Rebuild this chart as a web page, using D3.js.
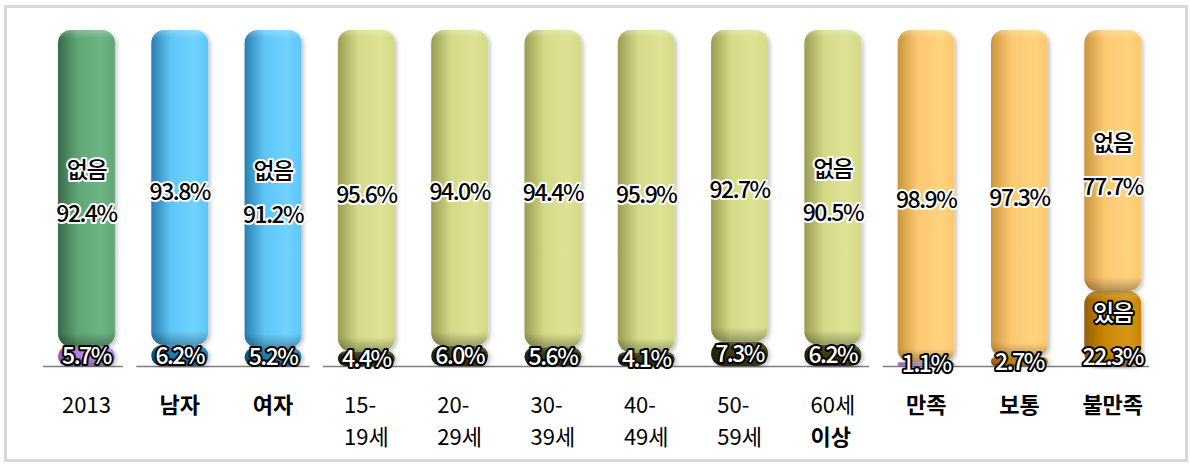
<!DOCTYPE html>
<html>
<head>
<meta charset="utf-8">
<script src="https://cdn.jsdelivr.net/npm/d3@7"></script>
<style>
  body { margin: 0; background: #fff; }
  svg { display: block; font-family: "Noto Sans CJK KR", "Noto Sans", sans-serif; }
</style>
</head>
<body>
<svg width="1190" height="464"></svg>
<script>
// categories (line breaks as in the original axis), series values in %
var categories = ["2013", "남자", "여자", "15-\n19세", "20-\n29세", "30-\n39세", "40-\n49세",
                  "50-\n59세", "60세\n이상", "만족", "보통", "불만족"];
var noneValues = [92.4, 93.8, 91.2, 95.6, 94.0, 94.4, 95.9, 92.7, 90.5, 98.9, 97.3, 77.7];  // 없음
var yesValues  = [5.7, 6.2, 5.2, 4.4, 6.0, 5.6, 4.1, 7.3, 6.2, 1.1, 2.7, 22.3];            // 있음
var groupOf    = [0, 1, 1, 2, 2, 2, 2, 2, 2, 3, 3, 3];
var boldCats   = ["남자", "여자", "만족", "보통", "불만족"];
var namedNone  = ["2013", "여자", "60세\n이상", "불만족"];   // bars that show the 없음 name
var namedYes   = ["불만족"];                                 // bars that show the 있음 name

// colours: [dark edge, body, highlight]
var topColors = [
  ["#3b6a49", "#5ea676", "#6cb583"],
  ["#2a7fb0", "#5ec6f6", "#70d2ff"],
  ["#9a9d52", "#d3d987", "#dde392"],
  ["#c9953e", "#fbc870", "#ffd37e"]
];
var olive = ["#1f2108", "#3a3d14", "#474a1c"];
var bottomColors = [
  ["#8d5fc0", "#b283e0", "#c49af0"],
  ["#0d4f78", "#1a7db3", "#2a8dc3"],
  ["#0d4f78", "#1a7db3", "#2a8dc3"],
  olive, olive, olive, olive, olive, olive,
  ["#8d6fc0", "#b59ce0", "#c7b0f0"],
  ["#9a5f08", "#c98412", "#d99a25"],
  ["#94600a", "#c88400", "#d6961a"]
];

var data = categories.map(function(c, i) {
  return {cat: c, none: noneValues[i], yes: yesValues[i], i: i};
});

var svg = d3.select("svg");
var defs = svg.append("defs");

// chart frame
svg.append("rect")
  .attr("x", 5.5).attr("y", 6.5)
  .attr("width", 1181).attr("height", 454)
  .attr("fill", "#fff")
  .attr("stroke", "#d9d9d9")
  .attr("stroke-width", 3);

var x = d3.scaleBand()
  .domain(categories)
  .range([39.8, 1159.4])
  .paddingInner(0.39)
  .paddingOuter(0.195);

var y = d3.scaleLinear().domain([0, 1]).range([366, 30]);

var stacked = d3.stack()
  .keys(["yes", "none"])
  .offset(d3.stackOffsetExpand)(data);

function hGrad(id, c) {
  var g = defs.append("linearGradient").attr("id", id)
    .attr("x1", 0).attr("x2", 1).attr("y1", 0).attr("y2", 0);
  g.append("stop").attr("offset", 0).attr("stop-color", c[0]);
  g.append("stop").attr("offset", 0.35).attr("stop-color", c[1]);
  g.append("stop").attr("offset", 0.75).attr("stop-color", c[2]);
  g.append("stop").attr("offset", 1).attr("stop-color", c[1]);
}
topColors.forEach(function(c, i) { hGrad("top" + i, c); });
bottomColors.forEach(function(c, i) { hGrad("bot" + i, c); });

var shadow = defs.append("filter").attr("id", "shadow")
  .attr("x", "-20%").attr("y", "-5%").attr("width", "140%").attr("height", "110%");
shadow.append("feDropShadow")
  .attr("dx", 2).attr("dy", 2).attr("stdDeviation", 2)
  .attr("flood-color", "#000").attr("flood-opacity", 0.25);

// axis segments, one per group
var groups = d3.groups(data, function(d) { return groupOf[d.i]; });
svg.append("g").selectAll("line")
  .data(groups)
  .enter().append("line")
    .attr("x1", function(g) { return x(g[1][0].cat) - 15; })
    .attr("x2", function(g) { return x(g[1][g[1].length - 1].cat) + x.bandwidth() + 8; })
    .attr("y1", y(0) + 0.5).attr("y2", y(0) + 0.5)
    .attr("stroke", "#7f7f7f")
    .attr("stroke-width", 1.5);

// bars
var layers = svg.append("g").selectAll("g")
  .data(stacked)
  .enter().append("g");

layers.selectAll("g")
  .data(function(s) { return s.map(function(d) { d.key = s.key; return d; }); })
  .enter().append("g")
  .each(function(d) {
    var gEl = d3.select(this);
    var i = d.data.i;
    var x0 = x(d.data.cat), w = x.bandwidth();
    var y0 = y(d[1]), h = y(d[0]) - y(d[1]);
    var r = Math.min(13, h / 2);
    var fill = d.key === "none" ? "url(#top" + groupOf[i] + ")" : "url(#bot" + i + ")";
    gEl.append("rect")
      .attr("x", x0).attr("y", y0)
      .attr("width", w).attr("height", h)
      .attr("rx", r).attr("ry", r)
      .attr("fill", fill)
      .attr("filter", "url(#shadow)");
    // vertical shading: light top, dark rim at the bottom
    if (h > 6) {
      var gid = "v" + d.key + i;
      var f = Math.min(0.5, 14 / h);
      var vg = defs.append("linearGradient").attr("id", gid)
        .attr("x1", 0).attr("x2", 0).attr("y1", 0).attr("y2", 1);
      vg.append("stop").attr("offset", 0).attr("stop-color", "#fff").attr("stop-opacity", 0.25);
      vg.append("stop").attr("offset", f * 0.6).attr("stop-color", "#fff").attr("stop-opacity", 0);
      vg.append("stop").attr("offset", 1 - f).attr("stop-color", "#000").attr("stop-opacity", 0);
      vg.append("stop").attr("offset", 1).attr("stop-color", "#000").attr("stop-opacity", 0.3);
      gEl.append("rect")
        .attr("x", x0).attr("y", y0)
        .attr("width", w).attr("height", h)
        .attr("rx", r).attr("ry", r)
        .attr("fill", "url(#" + gid + ")");
    }
  });

// value labels
var fmt = function(v) { return v.toFixed(1) + "%"; };
var labels = svg.append("g")
  .attr("text-anchor", "middle")
  .attr("font-size", 23)
  .attr("font-weight", 500)
  .attr("letter-spacing", -1.5)
  .style("paint-order", "stroke")
  .attr("stroke-linejoin", "round");

stacked.forEach(function(s) {
  s.forEach(function(d) {
    var cx = x(d.data.cat) + x.bandwidth() / 2;
    var cy = (y(d[0]) + y(d[1])) / 2;
    var isTop = s.key === "none";
    var lines = [fmt(d.data[s.key])];
    var named = isTop ? namedNone.indexOf(d.data.cat) >= 0 : namedYes.indexOf(d.data.cat) >= 0;
    if (named) lines.unshift(isTop ? "없음" : "있음");
    var offs = lines.length === 2 ? [-22, 22] : [0];
    if (isTop) cy += 4;
    if (!isTop && named) cy += 6;
    lines.forEach(function(t, k) {
      labels.append("text")
        .attr("x", cx)
        .attr("y", cy + offs[k])
        .attr("dy", "0.35em")
        .attr("fill", isTop ? "#000" : "#fff")
        .attr("stroke", isTop ? "#fff" : "#000")
        .attr("stroke-width", 4)
        .text(t);
    });
  });
});

// category labels, one text per line so the lines never overlap
var catG = svg.append("g").attr("font-size", 22).attr("fill", "#000");
data.forEach(function(d) {
  var lines = d.cat.split("\n");
  var cx = x(d.cat) + x.bandwidth() / 2;
  var g = catG.append("g");
  lines.forEach(function(l, k) {
    g.append("text")
      .attr("x", 0)
      .attr("y", 413 + k * 32)
      .attr("font-weight", (boldCats.indexOf(d.cat) >= 0 || l === "이상") ? "bold" : "normal")
      .text(l);
  });
  var wMax = d3.max(g.selectAll("text").nodes(), function(n) { return n.getComputedTextLength(); });
  g.attr("transform", "translate(" + (cx - wMax / 2) + ",0)");
});
</script>
</body>
</html>
